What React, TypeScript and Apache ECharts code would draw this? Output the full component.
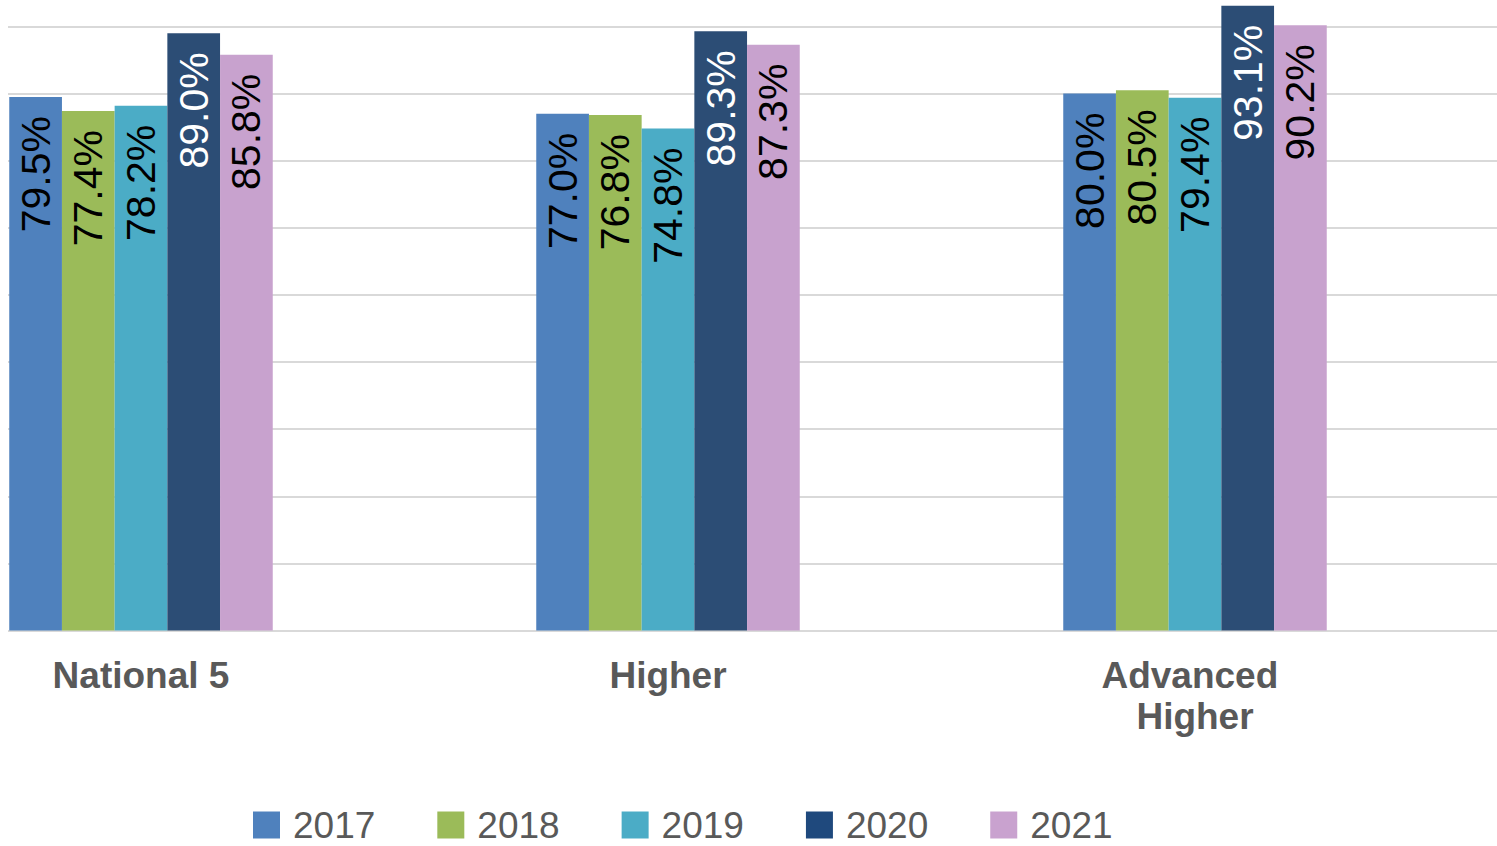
import React, { useEffect, useRef } from "react";
import * as echarts from "echarts";

const categories = ["National 5", "Higher", "Advanced Higher"];
const years = ["2017", "2018", "2019", "2020", "2021"];
const v2017 = [79.5, 77.0, 80.0];
const v2018 = [77.4, 76.8, 80.5];
const v2019 = [78.2, 74.8, 79.4];
const v2020 = [89.0, 89.3, 93.1];
const v2021 = [85.8, 87.3, 90.2];
const seriesValues = [v2017, v2018, v2019, v2020, v2021];

const barColors = ["#4F81BD", "#9BBB59", "#4BACC6", "#2C4D75", "#C8A2CE"];
const legendColors = ["#4F81BD", "#9BBB59", "#4BACC6", "#1F497D", "#C9A2CF"];
const labelColors = ["#000000", "#000000", "#000000", "#FFFFFF", "#000000"];

const FONT = "'Liberation Sans', Arial, Helvetica, sans-serif";

// inner chart canvas is offset from the page: pageX = x - OX, pageY = y - OY
const OX = 132;
const OY = 50;

export default function App() {
  const ref = useRef<HTMLDivElement>(null);
  useEffect(() => {
    if (!ref.current) return;
    const chart = echarts.init(ref.current, undefined, { renderer: "svg" });
    const gridTop = -40.6 + OY;
    const gridHeight = 671.1;
    chart.setOption({
      animation: false,
      textStyle: { fontFamily: FONT },
      grid: [
        { left: -122.5 + OX, width: 1581, top: gridTop, height: gridHeight },
        { left: 8 + OX, right: 0, top: gridTop, height: gridHeight },
      ],
      xAxis: [
        {
          type: "category",
          gridIndex: 0,
          data: categories,
          axisLine: { show: false },
          axisTick: { show: false },
          axisLabel: {
            fontSize: 37,
            fontWeight: "bold",
            color: "#595959",
            lineHeight: 41,
            margin: 24,
            width: 250,
            overflow: "break",
            interval: 0,
            fontFamily: FONT,
          },
        },
        { type: "value", gridIndex: 1, min: 0, max: 1, show: false },
      ],
      yAxis: [
        { type: "value", gridIndex: 0, min: 0, max: 100, interval: 10, show: false },
        {
          type: "value",
          gridIndex: 1,
          min: 0,
          max: 100,
          interval: 10,
          axisLabel: { show: false },
          axisLine: { show: false },
          axisTick: { show: false },
          splitLine: { show: true, lineStyle: { color: "#D9D9D9", width: 2 } },
        },
      ],
      legend: {
        left: 253 + OX,
        top: 806.5 + OY,
        padding: 0,
        icon: "rect",
        itemWidth: 27,
        itemHeight: 27,
        itemGap: 62,
        textStyle: {
          fontSize: 37,
          color: "#595959",
          padding: [0, 0, 0, 8],
          lineHeight: 37,
          fontFamily: FONT,
        },
        data: years.map((y, i) => ({ name: y, itemStyle: { color: legendColors[i] } })),
      },
      series: years.map((y, i) => ({
        name: y,
        type: "bar",
        xAxisIndex: 0,
        yAxisIndex: 0,
        data: seriesValues[i],
        barGap: "0%",
        barCategoryGap: "50%",
        itemStyle: { color: barColors[i] },
        label: {
          show: true,
          position: "insideTop",
          rotate: 90,
          align: "right",
          verticalAlign: "middle",
          distance: 19,
          fontSize: 41,
          color: labelColors[i],
          fontFamily: FONT,
          formatter: (p: any) => Number(p.value).toFixed(1) + "%",
        },
      })),
    });
    return () => chart.dispose();
  }, []);
  return (
    <div
      style={{
        position: "absolute",
        left: 8,
        top: 0,
        width: 1489,
        height: 846,
        overflow: "hidden",
      }}
    >
      <div
        ref={ref}
        style={{ position: "absolute", left: -(OX + 8), top: -OY, width: 1800, height: 896 }}
      />
    </div>
  );
}
